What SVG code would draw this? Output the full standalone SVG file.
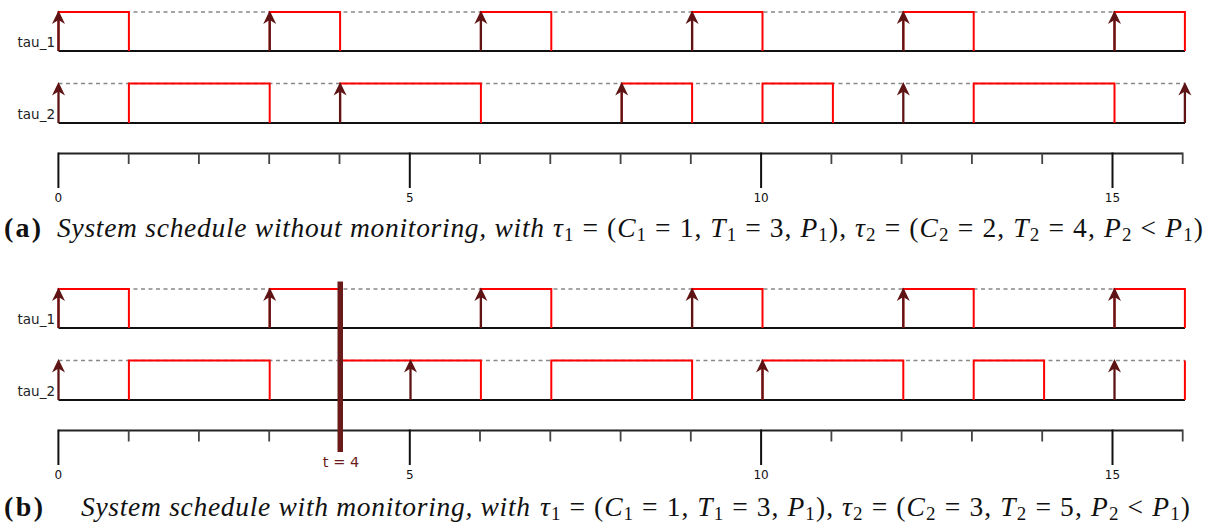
<svg xmlns="http://www.w3.org/2000/svg" xmlns:xlink="http://www.w3.org/1999/xlink" width="1213" height="527" viewBox="0 0 1213 527">
<style>
.base{stroke:#111;stroke-width:2;fill:none}
.dash{stroke:#888;stroke-width:1.6;stroke-dasharray:4 3.5;fill:none}
.run{stroke:#ff0000;stroke-width:2;fill:none}
.arr{stroke:#5e1414;stroke-width:2.3;fill:none}
.ah{fill:#5e1414}
.axis{stroke:#222;stroke-width:2;fill:none}
.major{stroke:#111;stroke-width:2;fill:none}
.minor{stroke:#444;stroke-width:1.8;fill:none}
.lbl{font-family:"DejaVu Sans",sans-serif;font-size:13.5px;fill:#222}
.tick{font-family:"DejaVu Sans",sans-serif;font-size:12px;fill:#111;text-anchor:middle}
.cap{font-family:"Liberation Serif",serif;font-size:27.5px;fill:#111}
.capb{font-family:"Liberation Serif",serif;font-size:28px;font-weight:bold;fill:#111}
.it{font-style:italic}
.sub{font-size:19px}
</style>
<defs>
<path id="ah" class="ah" d="M0,0 L-6.5,13.5 L0,9.5 L6.5,13.5 Z"/>
</defs>

<!-- (a) tau_1 -->
<g id="a_tau1">
<text class="lbl" x="55" y="47" text-anchor="end">tau_1</text>
<line class="dash" x1="58.5" y1="12" x2="1185" y2="12"/>
<line class="base" x1="58.5" y1="51" x2="1185" y2="51"/>
<path class="run" d="M58.5,51V12H128.9V51 M269.7,51V12H340.1V51 M480.9,51V12H551.3V51 M692.1,51V12H762.5V51 M903.3,51V12H973.7V51 M1114.5,51V12H1184.9V51"/>
<path class="arr" d="M58.5,51V19 M269.7,51V19 M480.9,51V19 M692.1,51V19 M903.3,51V19 M1114.5,51V19"/>
<use xlink:href="#ah" x="58.5" y="10.5"/><use xlink:href="#ah" x="269.7" y="10.5"/><use xlink:href="#ah" x="480.9" y="10.5"/><use xlink:href="#ah" x="692.1" y="10.5"/><use xlink:href="#ah" x="903.3" y="10.5"/><use xlink:href="#ah" x="1114.5" y="10.5"/>
</g>

<!-- (a) tau_2 -->
<g id="a_tau2">
<text class="lbl" x="55" y="119" text-anchor="end">tau_2</text>
<line class="dash" x1="58.5" y1="83.5" x2="1185" y2="83.5"/>
<line class="base" x1="58.5" y1="123" x2="1185" y2="123"/>
<path class="run" d="M128.9,123V83.5H269.7V123 M340.1,123V83.5H480.9V123 M621.7,123V83.5H692.1V123 M762.5,123V83.5H832.9V123 M973.7,123V83.5H1114.5V123"/>
<path class="arr" d="M58.5,123V90.5 M340.1,123V90.5 M621.7,123V90.5 M903.3,123V90.5 M1184.9,123V90.5"/>
<use xlink:href="#ah" x="58.5" y="82"/><use xlink:href="#ah" x="340.1" y="82"/><use xlink:href="#ah" x="621.7" y="82"/><use xlink:href="#ah" x="903.3" y="82"/><use xlink:href="#ah" x="1184.9" y="82"/>
</g>

<!-- (a) axis -->
<g id="a_axis">
<line class="axis" x1="58.4" y1="153.5" x2="1182.7" y2="153.5"/>
<path class="major" d="M58.4,152.5V188 M409.8,152.5V188 M761.1,152.5V188 M1112.5,152.5V188"/>
<path class="minor" d="M128.7,153.5V164 M198.9,153.5V164 M269.2,153.5V164 M339.5,153.5V164 M480,153.5V164 M550.3,153.5V164 M620.6,153.5V164 M690.8,153.5V164 M831.4,153.5V164 M901.6,153.5V164 M971.9,153.5V164 M1042.2,153.5V164 M1182.7,152.5V164"/>
<text class="tick" x="58.4" y="202">0</text>
<text class="tick" x="409.8" y="202">5</text>
<text class="tick" x="761.1" y="202">10</text>
<text class="tick" x="1112.5" y="202">15</text>
</g>

<g id="a_caption">
<text class="capb" x="4" y="237" textLength="37">(a)</text>
<text class="cap it" x="57" y="237" textLength="487">System schedule without monitoring, with</text>
<text class="cap" x="553" y="237" textLength="293"><tspan class="it">τ</tspan><tspan class="sub" dy="4">1</tspan><tspan dy="-4"> = (</tspan><tspan class="it">C</tspan><tspan class="sub" dy="4">1</tspan><tspan dy="-4"> = 1, </tspan><tspan class="it">T</tspan><tspan class="sub" dy="4">1</tspan><tspan dy="-4"> = 3, </tspan><tspan class="it">P</tspan><tspan class="sub" dy="4">1</tspan><tspan dy="-4">),</tspan></text>
<text class="cap" x="855" y="237" textLength="348"><tspan class="it">τ</tspan><tspan class="sub" dy="4">2</tspan><tspan dy="-4"> = (</tspan><tspan class="it">C</tspan><tspan class="sub" dy="4">2</tspan><tspan dy="-4"> = 2, </tspan><tspan class="it">T</tspan><tspan class="sub" dy="4">2</tspan><tspan dy="-4"> = 4, </tspan><tspan class="it">P</tspan><tspan class="sub" dy="4">2</tspan><tspan dy="-4"> &lt; </tspan><tspan class="it">P</tspan><tspan class="sub" dy="4">1</tspan><tspan dy="-4">)</tspan></text>
</g>

<!-- (b) tau_1 -->
<g id="b_tau1">
<text class="lbl" x="55" y="324" text-anchor="end">tau_1</text>
<line class="dash" x1="58.5" y1="289" x2="1185" y2="289"/>
<line class="base" x1="58.5" y1="328" x2="1185" y2="328"/>
<path class="run" d="M58.5,328V289H128.9V328 M269.7,328V289H340.1V328 M480.9,328V289H551.3V328 M692.1,328V289H762.5V328 M903.3,328V289H973.7V328 M1114.5,328V289H1184.9V328"/>
<path class="arr" d="M58.5,328V296 M269.7,328V296 M480.9,328V296 M692.1,328V296 M903.3,328V296 M1114.5,328V296"/>
<use xlink:href="#ah" x="58.5" y="287.5"/><use xlink:href="#ah" x="269.7" y="287.5"/><use xlink:href="#ah" x="480.9" y="287.5"/><use xlink:href="#ah" x="692.1" y="287.5"/><use xlink:href="#ah" x="903.3" y="287.5"/><use xlink:href="#ah" x="1114.5" y="287.5"/>
</g>

<!-- (b) tau_2 -->
<g id="b_tau2">
<text class="lbl" x="55" y="396" text-anchor="end">tau_2</text>
<line class="dash" x1="58.5" y1="360.5" x2="1185" y2="360.5"/>
<line class="base" x1="58.5" y1="400" x2="1185" y2="400"/>
<path class="run" d="M128.9,400V360.5H269.7V400 M340.1,400V360.5H480.9V400 M551.3,400V360.5H692.1V400 M762.5,400V360.5H903.3V400 M973.7,400V360.5H1044.1V400 M1184.9,400V360.5"/>
<path class="arr" d="M58.5,400V367.5 M410.5,400V367.5 M762.5,400V367.5 M1114.5,400V367.5"/>
<use xlink:href="#ah" x="58.5" y="359"/><use xlink:href="#ah" x="410.5" y="359"/><use xlink:href="#ah" x="762.5" y="359"/><use xlink:href="#ah" x="1114.5" y="359"/>
</g>

<!-- (b) axis -->
<g id="b_axis">
<line class="axis" x1="58.4" y1="430.5" x2="1182.7" y2="430.5"/>
<path class="major" d="M58.4,429.5V465 M409.8,429.5V465 M761.1,429.5V465 M1112.5,429.5V465"/>
<path class="minor" d="M128.7,430.5V441.5 M198.9,430.5V441.5 M269.2,430.5V441.5 M339.5,430.5V441.5 M480,430.5V441.5 M550.3,430.5V441.5 M620.6,430.5V441.5 M690.8,430.5V441.5 M831.4,430.5V441.5 M901.6,430.5V441.5 M971.9,430.5V441.5 M1042.2,430.5V441.5 M1182.7,429.5V441.5"/>
<text class="tick" x="58.4" y="479">0</text>
<text class="tick" x="409.8" y="479">5</text>
<text class="tick" x="761.1" y="479">10</text>
<text class="tick" x="1112.5" y="479">15</text>
</g>

<!-- monitoring instant t = 4 -->
<g id="t4_marker">
<rect x="337.5" y="281.5" width="5.5" height="170.5" fill="#6b1a1a"/>
<text x="341" y="467" font-family="DejaVu Sans, sans-serif" font-size="14.5px" fill="#6b1a1a" text-anchor="middle">t = 4</text>
</g>

<g id="b_caption">
<text class="capb" x="4" y="516" textLength="39">(b)</text>
<text class="cap it" x="81" y="516" textLength="449">System schedule with monitoring, with</text>
<text class="cap" x="540" y="516" textLength="293"><tspan class="it">τ</tspan><tspan class="sub" dy="4">1</tspan><tspan dy="-4"> = (</tspan><tspan class="it">C</tspan><tspan class="sub" dy="4">1</tspan><tspan dy="-4"> = 1, </tspan><tspan class="it">T</tspan><tspan class="sub" dy="4">1</tspan><tspan dy="-4"> = 3, </tspan><tspan class="it">P</tspan><tspan class="sub" dy="4">1</tspan><tspan dy="-4">),</tspan></text>
<text class="cap" x="842" y="516" textLength="348"><tspan class="it">τ</tspan><tspan class="sub" dy="4">2</tspan><tspan dy="-4"> = (</tspan><tspan class="it">C</tspan><tspan class="sub" dy="4">2</tspan><tspan dy="-4"> = 3, </tspan><tspan class="it">T</tspan><tspan class="sub" dy="4">2</tspan><tspan dy="-4"> = 5, </tspan><tspan class="it">P</tspan><tspan class="sub" dy="4">2</tspan><tspan dy="-4"> &lt; </tspan><tspan class="it">P</tspan><tspan class="sub" dy="4">1</tspan><tspan dy="-4">)</tspan></text>
</g>
</svg>
